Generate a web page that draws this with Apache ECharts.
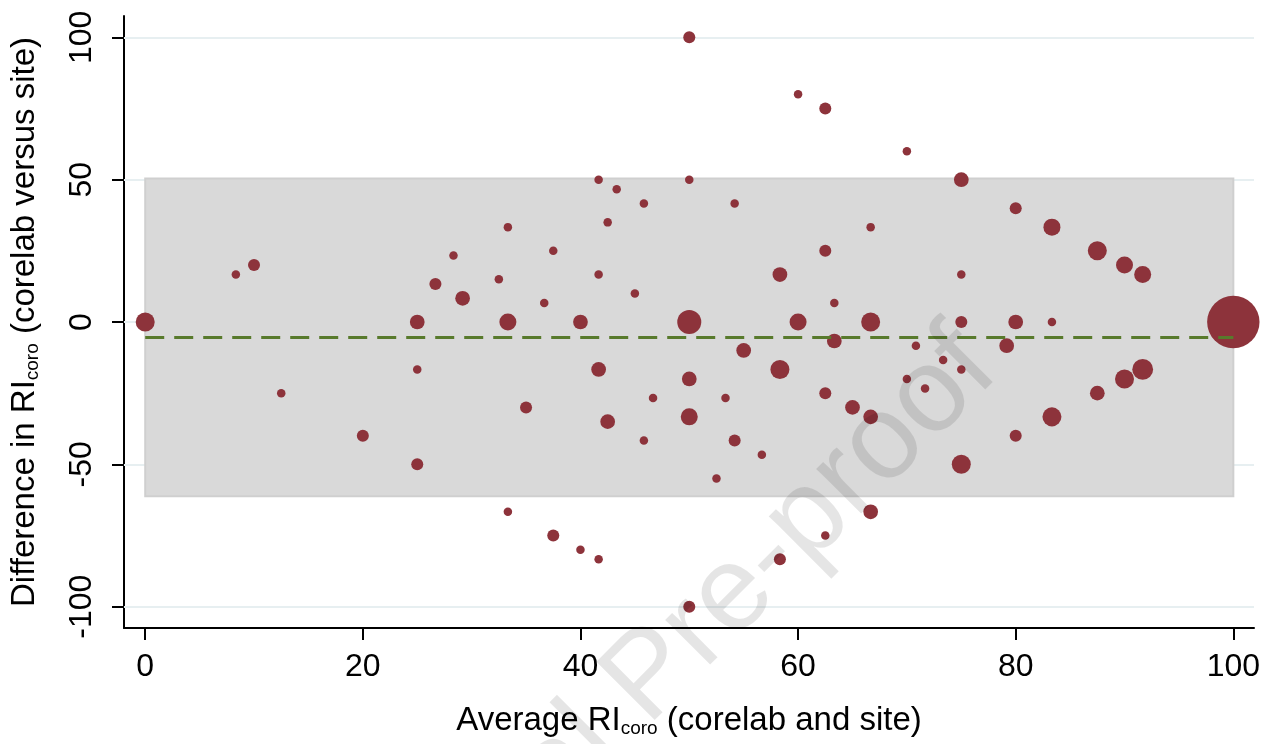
<!DOCTYPE html>
<html>
<head>
<meta charset="utf-8">
<script src="https://cdn.jsdelivr.net/npm/echarts@6/dist/echarts.min.js"></script>
<style>html,body{margin:0;padding:0;background:#fff}#c{width:1271px;height:744px}</style>
</head>
<body>
<div id="c"></div>
<script>
// Average RI_coro (corelab and site)
const avg = [0, 8.33, 10, 12.5, 20, 25, 25, 25, 26.67, 28.33, 29.17, 32.5, 33.33, 33.33, 33.33, 35, 36.67, 37.5, 37.5, 40, 40,
  41.67, 41.67, 41.67, 41.67, 42.5, 42.5, 43.33, 45, 45.83, 45.83, 46.67, 50, 50, 50, 50, 50, 50, 52.5, 53.33, 54.17, 54.17,
  55, 56.67, 58.33, 58.33, 58.33, 60, 60, 62.5, 62.5, 62.5, 62.5, 63.33, 63.33, 65, 66.67, 66.67, 66.67, 66.67, 70, 70,
  70.83, 71.67, 73.33, 75, 75, 75, 75, 75, 79.17, 80, 80, 80, 83.33, 83.33, 83.33, 87.5, 87.5, 90, 90, 91.67, 91.67, 100];
// Difference in RI_coro (corelab versus site)
const diff = [0, 16.67, 20, -25, -40, 0, -16.67, -50, 13.33, 23.33, 8.33, 15, 33.33, 0, -66.67, -30, 6.67, 25, -75, 0, -80,
  50, 16.67, -16.67, -83.33, 35, -35, 46.67, 10, 41.67, -41.67, -26.67, 100, 50, 0, -20, -33.33, -100, -55, -26.67, 41.67, -41.67,
  -10, -46.67, 16.67, -16.67, -83.33, 80, 0, 75, 25, -25, -75, 6.67, -6.67, -30, 33.33, 0, -33.33, -66.67, 60, -20,
  -8.33, -23.33, -13.33, 50, 16.67, 0, -16.67, -50, -8.33, 40, 0, -40, 33.33, 0, -33.33, 25, -25, 20, -20, 16.67, -16.67, 0];
// number of patients at each point (marker area)
const count = [5, 1, 2, 1, 2, 3, 1, 2, 2, 1, 3, 1, 1, 4, 1, 2, 1, 1, 2, 3, 1,
  1, 1, 3, 1, 1, 3, 1, 1, 1, 1, 1, 2, 1, 8, 3, 4, 2, 1, 1, 1, 2,
  3, 1, 3, 5, 2, 1, 4, 2, 2, 2, 1, 1, 3, 3, 1, 5, 3, 3, 1, 1,
  1, 1, 1, 3, 1, 2, 1, 5, 3, 2, 3, 2, 4, 1, 5, 5, 3, 4, 5, 4, 6, 38];
const meanDiff = -5.4;
const upperLoA = 50.4;
const lowerLoA = -61.2;
const xTicks = [0, 20, 40, 60, 80, 100];
const yTicks = [-100, -50, 0, 50, 100];

const points = avg.map((x, i) => [x, diff[i]]);
const font = '"Liberation Sans", Arial, sans-serif';
const titleRich = {
  a: {fontFamily: font, fontSize: 33, color: '#000', lineHeight: 38},
  s: {fontFamily: font, fontSize: 19, color: '#000', lineHeight: 38, padding: [15, 0, 0, 0]}
};

const chart = echarts.init(document.getElementById('c'), null, {renderer: 'canvas'});
chart.setOption({
  animation: false,
  backgroundColor: '#ffffff',
  grid: {left: 124, right: 17, top: 16, bottom: 116, containLabel: false, outerBoundsMode: 'none'},
  xAxis: {
    type: 'value', min: -1.95, max: 101.9,
    name: '{a|Average RI}{s|coro}{a| (corelab and site)}',
    nameLocation: 'middle', nameGap: 74,
    nameTextStyle: {rich: titleRich},
    axisLine: {show: true, onZero: false, lineStyle: {color: '#000', width: 2}},
    axisTick: {show: true, length: 12, lineStyle: {color: '#000', width: 2}, customValues: xTicks},
    axisLabel: {fontFamily: font, fontSize: 32, color: '#000', margin: 23, customValues: xTicks},
    splitLine: {show: false}
  },
  yAxis: {
    type: 'value', min: -107.5, max: 107.5,
    name: '{a|Difference in RI}{s|coro}{a| (corelab versus site)}',
    nameLocation: 'middle', nameGap: 80, nameRotate: 90,
    nameTextStyle: {rich: titleRich},
    axisLine: {show: true, onZero: false, lineStyle: {color: '#000', width: 2}},
    axisTick: {show: true, length: 12, lineStyle: {color: '#000', width: 2}, customValues: yTicks},
    axisLabel: {fontFamily: font, fontSize: 32, color: '#000', margin: 26, rotate: 90, customValues: yTicks},
    splitLine: {show: false}
  },
  series: [
    {
      type: 'line', data: [], z: 1, silent: true,
      markLine: {
        z: 1, silent: true, symbol: 'none', label: {show: false},
        lineStyle: {color: '#e7eff1', width: 2, type: 'solid'},
        data: yTicks.map(v => ({yAxis: v}))
      }
    },
    {
      type: 'line', data: [], z: 2, silent: true,
      markArea: {
        z: 2, silent: true,
        itemStyle: {color: '#d9d9d9', borderColor: '#cfcfcf', borderWidth: 2},
        data: [[{xAxis: 0, yAxis: lowerLoA}, {xAxis: 100, yAxis: upperLoA}]]
      }
    },
    {
      type: 'scatter', z: 3, data: points,
      symbol: 'circle',
      symbolSize: (val, p) => 8.5 * Math.sqrt(count[p.dataIndex]),
      itemStyle: {color: '#8d333b', opacity: 1}
    },
    {
      type: 'line', data: [], z: 4, silent: true,
      markLine: {
        z: 6, silent: true, symbol: 'none', label: {show: false},
        lineStyle: {color: '#587a2c', width: 3, type: [19, 10]},
        data: [[{coord: [0, meanDiff]}, {coord: [100, meanDiff]}]]
      }
    }
  ],
  graphic: [{
    type: 'text', z: 100, silent: true,
    x: 978, y: 350, rotation: Math.PI / 4,
    style: {
      text: 'Journal Pre-proof', font: '120px ' + font,
      fill: 'rgba(0,0,0,0.1)', textAlign: 'right', textVerticalAlign: 'middle'
    }
  }]
});
</script>
</body>
</html>
